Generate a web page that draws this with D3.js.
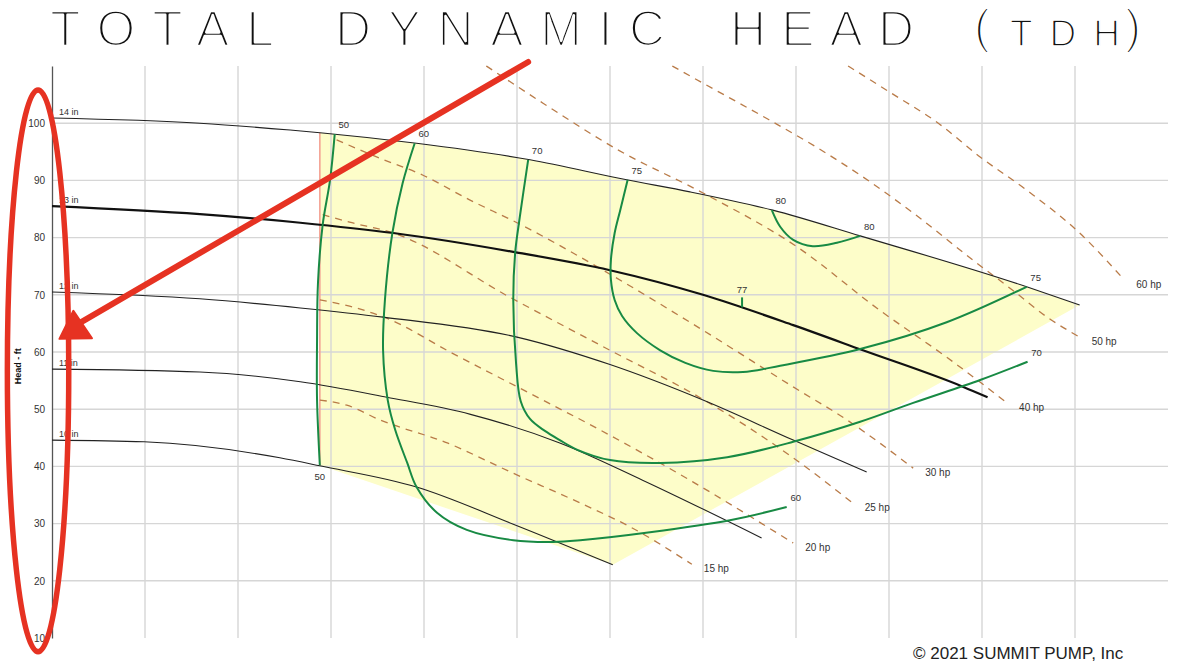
<!DOCTYPE html>
<html>
<head>
<meta charset="utf-8">
<script src="https://cdn.jsdelivr.net/npm/d3@7"></script>
<style>
  html, body { margin: 0; padding: 0; background: #fff; overflow: hidden; }
  svg { display: block; }
  text { font-family: "Liberation Sans", Arial, Helvetica, sans-serif; }
</style>
</head>
<body>
<svg id="chart" width="1177" height="666"></svg>
<script>
// ---- Axis extents and ticks ----
const flowDomain = [0, 1200];          // gpm
const headDomain = [10, 110];          // ft
const headTicks = [10, 20, 30, 40, 50, 60, 70, 80, 90, 100];
const flowGrid = [100, 200, 300, 400, 500, 600, 700, 800, 900, 1000, 1100];
const headGrid = [20, 30, 40, 50, 60, 70, 80, 90, 100];

// ---- Impeller head curves: [flow gpm, head ft] ----
const imp14 = [[0,100.9],[159,100.0],[256,98.8],[291,98.3],[392,96.5],[514,93.6],[618,90.1],[686,88.0],[775,84.8],[869,80.3],[1048,71.4],[1105,68.2]];
const imp13 = [[0,85.5],[159,84.1],[267,82.6],[367,80.8],[496,77.5],[600,74.3],[700,70.0],[797,64.7],[872,60.3],[980,53.9],[1006,52.1]];
const imp12 = [[0,70.5],[159,69.3],[267,67.7],[356,66.1],[500,62.6],[600,57.8],[700,51.6],[797,44.6],[876,39.0]];
const imp11 = [[0,57.0],[159,56.5],[267,54.8],[360,52.1],[450,49.1],[546,44.1],[635,37.6],[763,27.5]];
const imp10 = [[0,44.6],[99,44.3],[245,41.5],[288,40.1],[392,36.4],[496,29.9],[603,22.8]];
const impNames = ["14 in", "13 in", "12 in", "11 in", "10 in"];

// ---- Efficiency contours (%) ----
const eff50 = [[304,98.1],[299,90.1],[291,82.2],[286,72.1],[285,62.1],[285,51.6],[288,40.2]];
const eff60 = [[390,96.5],[377,89.5],[366,80.8],[358,69.1],[356,60.3],[361,51.6],[369,46.4],[382,40.6],[392,36.4],[414,31.9],[446,28.9],[496,27.1],[539,26.8],[568,27.1],[643,28.5],[729,30.6],[790,32.9]];
const eff70 = [[512,93.6],[503,83.6],[498,77.3],[496,69.1],[499,58.0],[504,51.4],[514,48.3],[530,46.2],[546,44.6],[565,42.9],[600,41.1],[654,40.6],[726,41.6],[797,44.3],[869,47.8],[926,51.1],[998,55.1],[1049,58.3]];
const eff75 = [[619,90.1],[611,84.8],[605,80.8],[601,76.1],[601,72.6],[605,69.1],[613,66.3],[629,63.3],[654,60.3],[681,58.1],[711,56.7],[743,56.5],[783,57.6],[871,60.6],[962,65.2],[1048,71.4]];
const eff80 = [[774,84.8],[783,81.9],[797,79.6],[818,78.5],[844,79.1],[869,80.3]];
const effValues = [50, 60, 70, 75, 80];
const bestEff = { value: 77, flow: 742, head: 67.8 };

// ---- Power lines (hp) ----
const hp15 = [[288,51.6],[317,50.7],[353,48.1],[425,44.1],[496,38.8],[568,33.6],[622,29.4],[688,22.9]];
const hp20 = [[288,69.1],[320,68.0],[360,65.9],[428,60.0],[517,52.5],[589,46.4],[689,37.3],[797,26.6]];
const hp25 = [[291,84.0],[320,82.7],[367,80.8],[492,69.6],[600,60.3],[697,52.0],[797,41.5],[861,33.6]];
const hp30 = [[306,97.1],[349,94.1],[399,90.9],[449,86.6],[500,82.6],[600,73.6],[700,63.8],[797,53.9],[855,48.1],[926,39.7]];
const hp40 = [[467,110],[528,103.5],[609,95.3],[700,87.8],[801,78.4],[890,67.3],[962,59.1],[1027,51.1]];
const hp50 = [[667,110],[700,107.0],[771,100.6],[822,95.8],[872,90.6],[926,84.3],[990,76.1],[1033,70.8],[1070,66.1],[1105,62.6]];
const hp60 = [[856,110],[902,105.3],[953,100.0],[998,94.1],[1048,88.3],[1105,80.8],[1153,72.6]];
const hpValues = [15, 20, 25, 30, 40, 50, 60];

// ---- Operating range ----
const minFlow = 288;                       // minimum continuous flow, gpm
const rangeBottom = [[603,22.8],[288,40.2]];

// ---- Red mark-up, in data units ----
const markEllipse = { flowMin: -48, flowMax: 18, headMin: 7.6, headMax: 105.8 };
const markArrow = { from: [512, 110.7], to: [30, 65.1] };
const markHead = [[23, 67.2], [8, 62.3], [43, 62.4]];

// ---------------------------------------------------------------
const svg = d3.select("#chart");
const x = d3.scaleLinear().domain(flowDomain).range([52, 1168]);
const y = d3.scaleLinear().domain(headDomain).range([638, 66]);

const line = d3.line().x(d => x(d[0])).y(d => y(d[1]));
const smooth = d3.line().x(d => x(d[0])).y(d => y(d[1])).curve(d3.curveMonotoneX);
const loop = d3.line().x(d => x(d[0])).y(d => y(d[1])).curve(d3.curveCatmullRom.alpha(0.5));

function headAt(curve, q) {
  for (let i = 1; i < curve.length; i++) {
    if (q <= curve[i][0]) {
      const a = curve[i - 1], b = curve[i];
      return a[1] + (b[1] - a[1]) * (q - a[0]) / (b[0] - a[0]);
    }
  }
  return curve[curve.length - 1][1];
}

// preferred operating region (yellow)
const regionTop = [[minFlow, headAt(imp14, minFlow)]].concat(imp14.filter(p => p[0] > minFlow));
const regionPath = smooth(regionTop) + rangeBottom.map(p => `L${x(p[0])},${y(p[1])}`).join("") + "Z";
svg.append("path").attr("d", regionPath).attr("fill", "#fdfdc9").attr("stroke", "none");

// grid
const grid = svg.append("g").attr("stroke", "#d6d6d6").attr("stroke-width", 1.4);
grid.selectAll("line.v").data(flowGrid).join("line").attr("class", "v")
  .attr("x1", d => x(d)).attr("x2", d => x(d)).attr("y1", y(110)).attr("y2", y(10));
grid.selectAll("line.h").data(headGrid).join("line").attr("class", "h")
  .attr("x1", x(0)).attr("x2", x(1200)).attr("y1", d => y(d)).attr("y2", d => y(d));

// y axis
const yAxis = svg.append("g").attr("transform", `translate(${x(0)},0)`)
  .call(d3.axisLeft(y).tickValues(headTicks).tickSize(0).tickSizeOuter(0).tickPadding(7));
yAxis.select(".domain").attr("stroke", "#555").attr("stroke-width", 1.3);
yAxis.selectAll("text").attr("font-size", 10).attr("fill", "#333")
  .attr("font-family", "'Liberation Sans', Arial, sans-serif");

svg.append("text")
  .attr("transform", `translate(21,${y(57.5)}) rotate(-90)`)
  .attr("text-anchor", "middle").attr("font-size", 9).attr("font-weight", "bold").attr("fill", "#111")
  .text("Head - ft");

// minimum flow line
svg.append("line")
  .attr("x1", x(minFlow)).attr("x2", x(minFlow))
  .attr("y1", y(headAt(imp14, minFlow))).attr("y2", y(headAt(imp10, minFlow)))
  .attr("stroke", "#f4a394").attr("stroke-width", 1.6);

// hp lines
const hpLines = [hp15, hp20, hp25, hp30, hp40, hp50, hp60];
const hpG = svg.append("g");
hpLines.forEach((pts, i) => {
  hpG.append("path").attr("d", smooth(pts)).attr("fill", "none")
    .attr("stroke", "#b97b48").attr("stroke-width", 1.3).attr("stroke-dasharray", "7,6");
  const end = pts[pts.length - 1];
  hpG.append("text").attr("x", x(end[0]) + 12).attr("y", y(end[1]) + 8)
    .attr("font-size", 10).attr("fill", "#333").text(`${hpValues[i]} hp`);
});

// impeller curves
const impCurves = [imp14, imp13, imp12, imp11, imp10];
const impG = svg.append("g");
impCurves.forEach((pts, i) => {
  impG.append("path").attr("d", smooth(pts)).attr("fill", "none")
    .attr("stroke", i === 1 ? "#111" : "#222").attr("stroke-width", i === 1 ? 2.2 : 1.1);
  impG.append("text").attr("x", x(pts[0][0]) + 7).attr("y", y(pts[0][1]) - 3)
    .attr("font-size", 9).attr("fill", "#333").text(impNames[i]);
});

// efficiency contours
const effCurves = [eff50, eff60, eff70, eff75, eff80];
const effG = svg.append("g");
effCurves.forEach((pts, i) => {
  effG.append("path").attr("d", loop(pts)).attr("fill", "none")
    .attr("stroke", "#188a44").attr("stroke-width", 2);
  const s = pts[0], e = pts[pts.length - 1];
  effG.append("text").attr("x", x(s[0]) + 9).attr("y", y(s[1]) - 6)
    .attr("text-anchor", "middle").attr("font-size", 9.5).attr("fill", "#333").text(effValues[i]);
  const below = e[0] <= minFlow;
  effG.append("text").attr("x", x(e[0]) + (below ? 0 : 9)).attr("y", y(e[1]) + (below ? 15 : -6))
    .attr("text-anchor", "middle").attr("font-size", 9.5).attr("fill", "#333").text(effValues[i]);
});
// best efficiency point tick
effG.append("line")
  .attr("x1", x(bestEff.flow)).attr("x2", x(bestEff.flow))
  .attr("y1", y(bestEff.head)).attr("y2", y(bestEff.head) - 10)
  .attr("stroke", "#188a44").attr("stroke-width", 2);
effG.append("text").attr("x", x(bestEff.flow)).attr("y", y(bestEff.head) - 14)
  .attr("text-anchor", "middle").attr("font-size", 9.5).attr("fill", "#333").text(bestEff.value);

// title: hairline lettering (regular face thinned by a white outline)
const title = svg.append("g").attr("fill", "#111")
  .style("font-family", "'Liberation Sans', Arial, sans-serif")
  .attr("stroke", "#fff").attr("stroke-linejoin", "round");
[
  { t: "TOTAL", x: 50, y: 46, len: 224, size: 50, thin: 2.6 },
  { t: "DYNAMIC", x: 335, y: 46, len: 330, size: 50, thin: 2.6 },
  { t: "HEAD", x: 730, y: 46, len: 184, size: 50, thin: 2.6 },
  { t: "(", x: 974, y: 43, size: 48, thin: 2.2 },
  { t: "TDH", x: 1010, y: 46, len: 110, size: 37, thin: 1.6 },
  { t: ")", x: 1125, y: 43, size: 48, thin: 2.2 }
].forEach(w => {
  const el = title.append("text").attr("x", w.x).attr("y", w.y)
    .attr("font-size", w.size).attr("stroke-width", w.thin).text(w.t);
  if (w.len) el.attr("textLength", w.len).attr("lengthAdjust", "spacing");
});

// copyright
svg.append("text").attr("x", 913).attr("y", 659).attr("font-size", 17).attr("fill", "#222")
  .text("\u00A9 2021 SUMMIT PUMP, Inc");

// red mark-up
const red = "#e63222";
const mk = svg.append("g");
mk.append("ellipse")
  .attr("cx", (x(markEllipse.flowMin) + x(markEllipse.flowMax)) / 2)
  .attr("cy", (y(markEllipse.headMin) + y(markEllipse.headMax)) / 2)
  .attr("rx", (x(markEllipse.flowMax) - x(markEllipse.flowMin)) / 2)
  .attr("ry", (y(markEllipse.headMin) - y(markEllipse.headMax)) / 2)
  .attr("fill", "none").attr("stroke", red).attr("stroke-width", 5.5);
mk.append("line")
  .attr("x1", x(markArrow.from[0])).attr("y1", y(markArrow.from[1]))
  .attr("x2", x(markArrow.to[0])).attr("y2", y(markArrow.to[1]))
  .attr("stroke", red).attr("stroke-width", 6).attr("stroke-linecap", "round");
mk.append("path").attr("d", line(markHead) + "Z").attr("fill", red).attr("stroke", red)
  .attr("stroke-width", 2).attr("stroke-linejoin", "round");
</script>
</body>
</html>
